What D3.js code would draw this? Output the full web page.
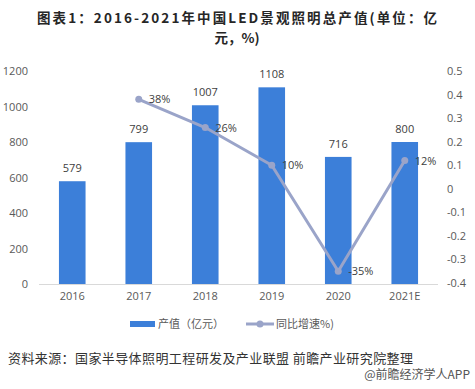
<!DOCTYPE html>
<html>
<head>
<meta charset="utf-8">
<script src="https://cdn.jsdelivr.net/npm/d3@7"></script>
<style>
  body { margin: 0; background: #fff; }
  svg { display: block; font-family: "Noto Sans CJK SC", "DejaVu Sans", sans-serif; }
</style>
</head>
<body>
<svg class="chart"></svg>
<script>
// 2016-2021 LED landscape lighting output + yoy growth
var years = ["2016", "2017", "2018", "2019", "2020", "2021E"];
var output = [579, 799, 1007, 1108, 716, 800];
var growth = [null, 0.38, 0.26, 0.10, -0.35, 0.12];
var growthLabels = [null, "38%", "26%", "10%", "-35%", "12%"];
var leftTicks = [0, 200, 400, 600, 800, 1000, 1200];
var rightTicks = [-0.4, -0.3, -0.2, -0.1, 0, 0.1, 0.2, 0.3, 0.4, 0.5];

var width = 475, height = 389;
var barColor = "#3c7fd9";
var lineColor = "#9aa4c9";
var textColor = "#595959";
var numFont = "'Open Sans', 'DejaVu Sans', sans-serif";

var svg = d3.select(".chart")
  .attr("width", width)
  .attr("height", height);

svg.append("rect").attr("width", width).attr("height", height).attr("fill", "#fff");

// title, two lines
svg.append("text")
  .attr("x", 237).attr("y", 23)
  .attr("text-anchor", "middle")
  .attr("fill", "#262626")
  .attr("textLength", 400)
  .style("font-size", "13.5px")
  .style("font-weight", "bold")
  .text("图表1：2016-2021年中国LED景观照明总产值(单位：亿");
svg.append("text")
  .attr("x", 237).attr("y", 43)
  .attr("text-anchor", "middle")
  .attr("fill", "#262626")
  .style("font-size", "13.5px")
  .style("font-weight", "bold")
  .text("元，%)");

// scales
var x = d3.scaleBand().domain(years).range([39, 438]).paddingInner(0.6).paddingOuter(0.3);
var y = d3.scaleLinear().domain([0, 1200]).range([284, 71]);
var y2 = d3.scaleLinear().domain([-0.4, 0.5]).range([283, 71]);

// left axis
var yAxis = svg.append("g")
  .attr("transform", "translate(28,0)")
  .call(d3.axisLeft(y).tickValues(leftTicks).tickSize(0).tickPadding(0).tickFormat(d3.format("d")));
yAxis.select(".domain").remove();
yAxis.selectAll("text").attr("fill", textColor).style("font-size", "11px").style("font-family", numFont);

// right axis
var y2Axis = svg.append("g")
  .attr("transform", "translate(447,0)")
  .call(d3.axisRight(y2).tickValues(rightTicks).tickSize(0).tickPadding(0)
    .tickFormat(function(d) { return String(Math.round(d * 10) / 10); }));
y2Axis.select(".domain").remove();
y2Axis.selectAll("text").attr("fill", textColor).style("font-size", "11px").style("font-family", numFont);

// baseline
svg.append("line")
  .attr("x1", 39).attr("x2", 438)
  .attr("y1", y(0) + 0.5).attr("y2", y(0) + 0.5)
  .attr("stroke", "#d9d9d9");

// x axis labels
var xAxis = svg.append("g")
  .attr("transform", "translate(0," + (y(0) + 8) + ")")
  .call(d3.axisBottom(x).tickSize(0).tickPadding(0));
xAxis.select(".domain").remove();
xAxis.selectAll("text").attr("fill", textColor).style("font-size", "11px").style("font-family", numFont);

// bars
svg.append("g").selectAll("rect")
  .data(output)
  .join("rect")
  .attr("x", function(d, i) { return x(years[i]); })
  .attr("y", function(d) { return y(d); })
  .attr("width", x.bandwidth())
  .attr("height", function(d) { return y(0) - y(d); })
  .attr("fill", barColor);

svg.append("g").selectAll("text")
  .data(output)
  .join("text")
  .attr("x", function(d, i) { return x(years[i]) + x.bandwidth() / 2; })
  .attr("y", function(d) { return y(d) - 9; })
  .attr("text-anchor", "middle")
  .attr("fill", "#404040")
  .style("font-size", "11px")
  .style("font-family", numFont)
  .text(function(d) { return d; });

// growth line
var pts = growth.map(function(g, i) { return { year: years[i], g: g, label: growthLabels[i] }; })
  .filter(function(d) { return d.g !== null; });
var cx = function(d) { return x(d.year) + x.bandwidth() / 2; };

svg.append("path")
  .datum(pts)
  .attr("fill", "none")
  .attr("stroke", lineColor)
  .attr("stroke-width", 3)
  .attr("stroke-linejoin", "round")
  .attr("d", d3.line().x(cx).y(function(d) { return y2(d.g); }));

svg.append("g").selectAll("circle")
  .data(pts)
  .join("circle")
  .attr("cx", cx)
  .attr("cy", function(d) { return y2(d.g); })
  .attr("r", 3.5)
  .attr("fill", lineColor);

svg.append("g").selectAll("text")
  .data(pts)
  .join("text")
  .attr("x", function(d) { return cx(d) + 10; })
  .attr("y", function(d) { return y2(d.g) + 4; })
  .attr("fill", "#404040")
  .style("font-size", "11px")
  .style("font-family", numFont)
  .text(function(d) { return d.label; });

// legend
var legend = svg.append("g").style("font-size", "11px").attr("fill", textColor);
legend.append("rect").attr("x", 130).attr("y", 321).attr("width", 25).attr("height", 6).attr("fill", barColor);
legend.append("text").attr("x", 158).attr("y", 328).text("产值（亿元）");
legend.append("line").attr("x1", 246).attr("x2", 274).attr("y1", 324).attr("y2", 324)
  .attr("stroke", lineColor).attr("stroke-width", 3);
legend.append("circle").attr("cx", 260).attr("cy", 324).attr("r", 3.5).attr("fill", lineColor);
legend.append("text").attr("x", 276).attr("y", 328).text("同比增速%)");

// source
svg.append("text")
  .attr("x", 8).attr("y", 363)
  .attr("fill", "#333")
  .style("font-size", "13px")
  .attr("textLength", 405)
  .text("资料来源：国家半导体照明工程研发及产业联盟 前瞻产业研究院整理");

svg.append("text")
  .attr("x", 470).attr("y", 379)
  .attr("text-anchor", "end")
  .attr("fill", "#555")
  .style("font-size", "12px")
  .text("@前瞻经济学人APP");
</script>
</body>
</html>
